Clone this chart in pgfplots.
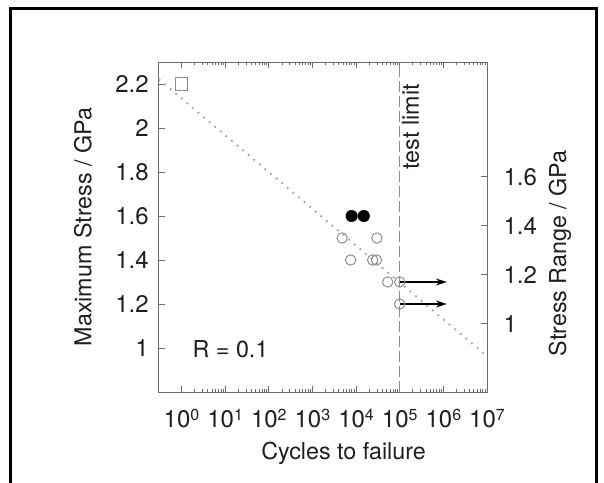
\documentclass[border=0pt]{standalone}
\usepackage{pgfplots}
\pgfplotsset{compat=1.18}
\usepackage{fontspec}
\setmainfont{TeX Gyre Heros}
\usetikzlibrary{arrows.meta}
\definecolor{axgray}{gray}{0.42}
\definecolor{mkgray}{gray}{0.55}
\definecolor{txt}{gray}{0.12}
\newcommand{\bigf}{\fontsize{23.3}{28}\selectfont}
\newcommand{\tickf}{\fontsize{24}{28}\selectfont}
\newcommand{\e}[1]{10\raisebox{7pt}{\fontsize{16}{16}\selectfont #1}}
\begin{document}
\begin{tikzpicture}[x=1pt,y=1pt]
\path[use as bounding box] (0,0) rectangle (604,482);
\draw[black, line width=3pt] (10.4,-20) -- (10.4,473) -- (596.3,473) -- (596.3,-20);
\begin{axis}[
  at={(158.7pt,90pt)}, anchor=south west,
  scale only axis, width=328.3pt, height=330pt,
  xmode=log, xmin=0.3, xmax=1e7, ymin=0.8, ymax=2.3,
  axis line style={axgray, line width=0.9pt},
  every tick/.style={axgray, line width=0.8pt},
  major tick length=6pt, minor tick length=3pt,
  ytick={1,1.2,1.4,1.6,1.8,2,2.2},
  ytick pos=left,
  xtick={1,10,100,1000,10000,100000,1000000,10000000},
  xticklabels={\e{0},\e{1},\e{2},\e{3},\e{4},\e{5},\e{6},\e{7}},
  tick label style={font=\tickf, text=txt},
  xticklabel style={anchor=base},
  /pgf/number format/assume math mode=true,
  yticklabel shift=6.5pt,
  xticklabel shift=35.5pt,
  xlabel={Cycles to failure}, ylabel={Maximum Stress / GPa},
  label style={font=\bigf, text=txt},
  xlabel style={at={(axis description cs:0.563,-0.185)}, anchor=center},
  ylabel style={at={(axis description cs:-0.2306,0.5)}, anchor=center},
  clip=false,
]
% fit line
\addplot[mkgray!80, line width=1.8pt, dash pattern=on 1.8pt off 5.5pt] coordinates {(0.3,2.222) (1e7,0.963)};
% test limit
\addplot[mkgray, line width=1.1pt, dash pattern=on 11pt off 4pt] coordinates {(1e5,0.8) (1e5,2.3)};
% arrows
\addplot[black, line width=1.3pt, -{Stealth[length=11pt,width=7pt]}] coordinates {(1e5,1.3) (1.2e6,1.3)};
\addplot[black, line width=1.3pt, -{Stealth[length=11pt,width=7pt]}] coordinates {(1e5,1.2) (1.2e6,1.2)};
% open circles
\addplot[only marks, mark=o, mark size=5.2pt, mkgray, line width=1pt, mark options={fill=white}] coordinates {
(4.8e3,1.5) (3.0e4,1.5) (7.5e3,1.4) (2.4e4,1.4) (2.95e4,1.4) (5.3e4,1.3) (1e5,1.3) (1e5,1.2)};
% filled circles
\addplot[only marks, mark=*, mark size=5.8pt, black] coordinates {(7.9e3,1.6) (1.5e4,1.6)};
% square
\addplot[only marks, mark=square, mark size=6.3pt, mkgray, line width=1pt] coordinates {(1,2.2)};
\node[rotate=90, anchor=north east, inner sep=0pt, font=\bigf, text=txt] at ([xshift=2pt]axis cs:1e5,2.2) {test limit};
\node[anchor=base west, inner sep=0pt, font=\bigf, text=txt] at (axis cs:1.78,0.958) {R = 0.1};
\end{axis}
\begin{axis}[
  at={(158.7pt,90pt)}, anchor=south west,
  scale only axis, width=328.3pt, height=330pt,
  xmode=log, xmin=0.3, xmax=1e7, ymin=0.72, ymax=2.07,
  axis x line=none, axis y line*=right,
  axis line style={axgray, line width=0.9pt},
  every tick/.style={axgray, line width=0.8pt},
  major tick length=6pt,
  ytick={1,1.2,1.4,1.6},
  tick label style={font=\tickf, text=txt},
  /pgf/number format/assume math mode=true,
  yticklabel shift=13pt,
  ylabel={Stress Range / GPa},
  label style={font=\bigf, text=txt},
  ylabel style={at={(axis description cs:1.2224,0.42)}, anchor=center, rotate=0},
]
\addplot[draw=none] coordinates {(1,1)};
\end{axis}
\end{tikzpicture}
\end{document}
